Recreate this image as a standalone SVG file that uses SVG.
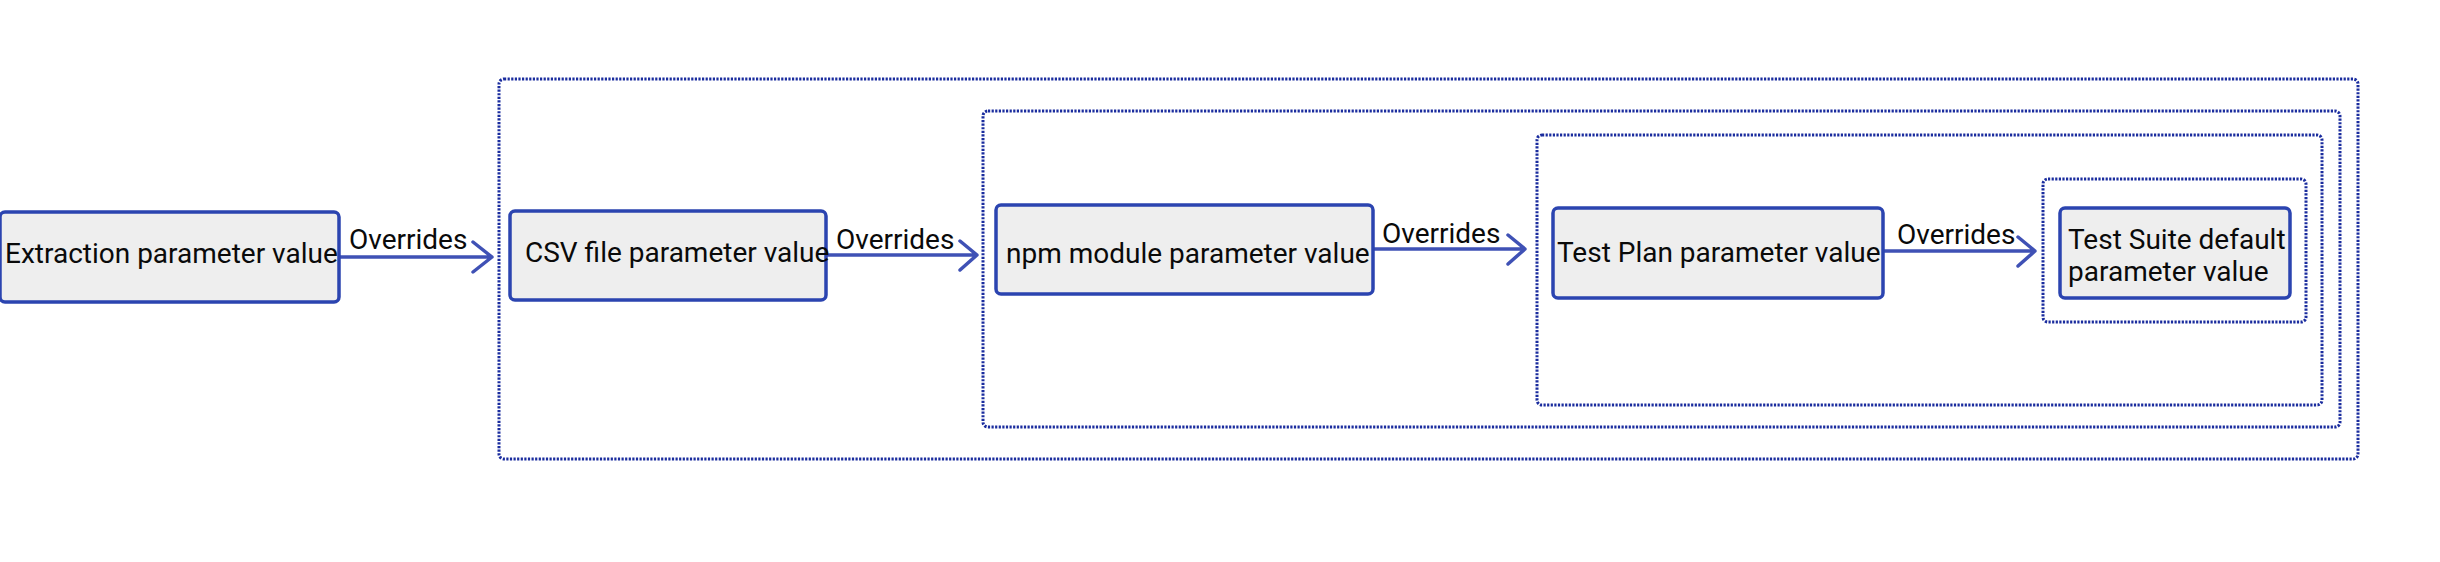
<svg xmlns="http://www.w3.org/2000/svg" width="2440" height="562" viewBox="0 0 2440 562">
<style>
.grp{fill:none;stroke:#1a2c9e;stroke-width:3;stroke-dasharray:2.2 1.4}
.node rect{fill:#eeeeee;stroke:#2b44b0;stroke-width:3.5}
.node text,.lbl{font-family:Roboto,"Liberation Sans",sans-serif;font-size:28px;fill:#0a0a0a}
.edge{fill:none;stroke:#3f51b5;stroke-width:3.5;stroke-linecap:round;stroke-linejoin:round}
</style>
<rect width="2440" height="562" fill="#ffffff"/>
<g id="groups">
<rect id="grp-csv" class="grp" x="499" y="79" width="1859" height="380" rx="5"/>
<rect id="grp-npm" class="grp" x="983" y="111" width="1357" height="316" rx="5"/>
<rect id="grp-plan" class="grp" x="1537" y="135" width="785" height="270" rx="5"/>
<rect id="grp-suite" class="grp" x="2043" y="179" width="263" height="143" rx="5"/>
</g>
<g id="connectors">
<path class="edge" d="M339 257H492M473 242L492 257L473 272"/>
<path class="edge" d="M826 255H977M960 241L977 255L960 270"/>
<path class="edge" d="M1373 249H1525M1508 235L1525 249L1508 264"/>
<path class="edge" d="M1883 251H2035M2018 237L2035 251L2018 266"/>
<text class="lbl" x="349" y="249">Overrides</text>
<text class="lbl" x="836" y="249">Overrides</text>
<text class="lbl" x="1382" y="243">Overrides</text>
<text class="lbl" x="1897" y="244">Overrides</text>
</g>
<g id="node-extraction" class="node">
<rect x="0" y="212" width="339" height="90" rx="5"/>
<text x="5" y="263">Extraction parameter value</text>
</g>
<g id="node-csv" class="node">
<rect x="510" y="211" width="316" height="89" rx="5"/>
<text x="525" y="262">CSV file parameter value</text>
</g>
<g id="node-npm" class="node">
<rect x="996" y="205" width="377" height="89" rx="5"/>
<text x="1006" y="263">npm module parameter value</text>
</g>
<g id="node-plan" class="node">
<rect x="1553" y="208" width="330" height="90" rx="5"/>
<text x="1557" y="262">Test Plan parameter value</text>
</g>
<g id="node-suite" class="node">
<rect x="2060" y="208" width="230" height="90" rx="5"/>
<text x="2068" y="249">Test Suite default</text>
<text x="2068" y="281">parameter value</text>
</g>
</svg>
